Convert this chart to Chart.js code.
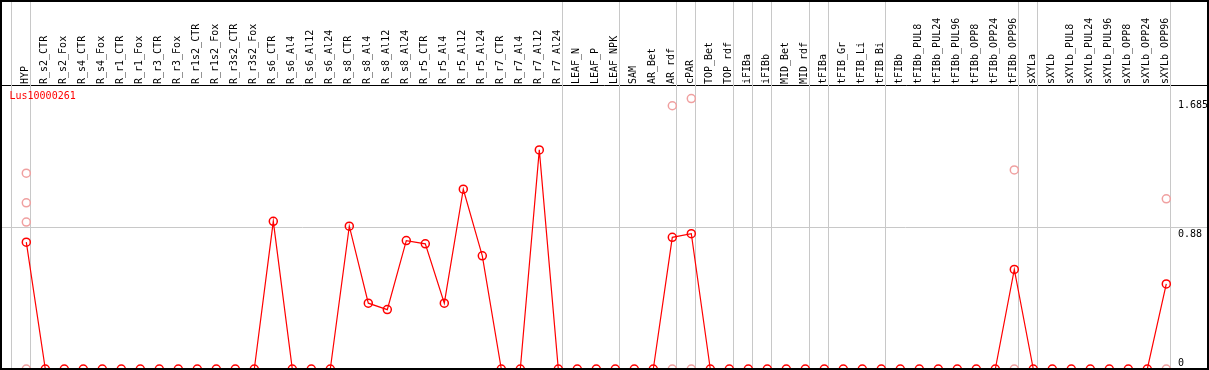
<!DOCTYPE html>
<html>
<head>
<meta charset="utf-8">
<script src="https://cdn.jsdelivr.net/npm/chart.js@4/dist/chart.umd.min.js"></script>
<style>
html, body { margin: 0; padding: 0; background: #fff; }
#wrap { width: 1209px; height: 370px; }
</style>
</head>
<body>
<div id="wrap"><canvas id="expr" width="1209" height="370"></canvas></div>
<script>
const geneName = 'Lus10000261';

const categories = [
	'HYP', 'R_s2_CTR', 'R_s2_Fox', 'R_s4_CTR', 'R_s4_Fox', 'R_r1_CTR', 'R_r1_Fox', 'R_r3_CTR', 'R_r3_Fox',
	'R_r1s2_CTR', 'R_r1s2_Fox', 'R_r3s2_CTR', 'R_r3s2_Fox', 'R_s6_CTR', 'R_s6_Al4', 'R_s6_Al12', 'R_s6_Al24',
	'R_s8_CTR', 'R_s8_Al4', 'R_s8_Al12', 'R_s8_Al24', 'R_r5_CTR', 'R_r5_Al4', 'R_r5_Al12', 'R_r5_Al24',
	'R_r7_CTR', 'R_r7_Al4', 'R_r7_Al12', 'R_r7_Al24', 'LEAF_N', 'LEAF_P', 'LEAF_NPK', 'SAM', 'AR_Bet', 'AR_rdf',
	'cPAR', 'TOP_Bet', 'TOP_rdf', 'iFIBa', 'iFIBb', 'MID_Bet', 'MID_rdf', 'tFIBa', 'tFIB_Gr', 'tFIB_Li', 'tFIB_Bi',
	'tFIBb', 'tFIBb_PUL8', 'tFIBb_PUL24', 'tFIBb_PUL96', 'tFIBb_OPP8', 'tFIBb_OPP24', 'tFIBb_OPP96',
	'sXYLa', 'sXYLb', 'sXYLb_PUL8', 'sXYLb_PUL24', 'sXYLb_PUL96', 'sXYLb_OPP8', 'sXYLb_OPP24', 'sXYLb_OPP96'
];

// mean expression per sample
const meanValues = [
	0.79, 0, 0, 0, 0, 0, 0, 0, 0, 0, 0, 0, 0,
	0.92, 0, 0, 0, 0.89, 0.41, 0.37, 0.80, 0.78, 0.41, 1.12, 0.705, 0, 0, 1.365, 0,
	0, 0, 0, 0, 0, 0.82, 0.843,
	0, 0, 0, 0, 0, 0, 0, 0, 0, 0, 0, 0, 0, 0, 0, 0,
	0.62, 0, 0, 0, 0, 0, 0, 0, 0.53
];

// individual replicates (faded points)
const repCategories = ['HYP', 'HYP', 'HYP', 'HYP', 'AR_rdf', 'AR_rdf', 'cPAR', 'cPAR',
	'tFIBb_OPP96', 'tFIBb_OPP96', 'sXYLb_OPP96', 'sXYLb_OPP96'];
const repValues = [1.22, 1.035, 0.915, 0, 1.64, 0, 1.685, 0, 1.24, 0, 1.06, 0];

const yTicks = [0, 0.88, 1.685];

// sample index after which a group separator is drawn
const groupBreaks = [-1, 0, 28, 31, 34, 35, 37, 38, 39, 41, 42, 45, 52, 53, 60];

const monoFont = 'DejaVu Sans Mono';

const framePlugin = {
	id: 'frame',
	beforeDatasetsDraw(chart) {
		const ctx = chart.ctx;
		const xs = chart.scales.x;
		const area = chart.chartArea;
		ctx.save();
		ctx.strokeStyle = '#c8c8c8';
		ctx.lineWidth = 1;
		groupBreaks.forEach(b => {
			const px = Math.round(xs.getPixelForValue(b + 0.2)) + 0.5;
			ctx.beginPath();
			ctx.moveTo(px, 0);
			ctx.lineTo(px, area.bottom);
			ctx.stroke();
		});
		ctx.restore();
	},
	afterDraw(chart) {
		const ctx = chart.ctx;
		const ys = chart.scales.y;
		const area = chart.chartArea;
		ctx.save();
		// outer frame
		ctx.fillStyle = '#000';
		ctx.fillRect(0, 0, chart.width, 2);
		ctx.fillRect(0, 0, 2, chart.height);
		ctx.fillRect(0, chart.height - 2, chart.width, 2);
		ctx.fillRect(chart.width - 2, 0, 2, chart.height);

		// y tick labels, inside the plot on the right
		ctx.font = '10px "' + monoFont + '"';
		ctx.textAlign = 'left';
		ctx.textBaseline = 'top';
		ys.ticks.forEach(t => {
			const py = Math.min(ys.getPixelForValue(t.value) + 2, area.bottom - 11);
			ctx.fillText(String(t.value), 1178, py);
		});

		// gene name
		ctx.fillStyle = '#ff0000';
		ctx.fillText(geneName, 9.5, 91);
		ctx.restore();
	}
};

const noPad = s => { s.paddingLeft = 0; s.paddingRight = 0; s.paddingTop = 0; s.paddingBottom = 0; };

new Chart(document.getElementById('expr'), {
	type: 'line',
	data: {
		datasets: [
			{
				label: 'replicates',
				data: repCategories.map((c, i) => ({ x: categories.indexOf(c), y: repValues[i] })),
				showLine: false,
				pointRadius: 4,
				pointBorderWidth: 1.5,
				pointBorderColor: '#f0a0a0',
				pointBackgroundColor: 'rgba(0,0,0,0)'
			},
			{
				label: geneName,
				data: meanValues.map((v, i) => ({ x: i, y: v })),
				borderColor: '#ff0000',
				borderWidth: 1.2,
				tension: 0,
				pointRadius: 4,
				pointBorderWidth: 1.5,
				pointBorderColor: '#ff0000',
				pointBackgroundColor: 'rgba(0,0,0,0)'
			}
		]
	},
	options: {
		responsive: false,
		animation: false,
		devicePixelRatio: 1,
		layout: { autoPadding: false, padding: { left: 1, right: 2, top: 0, bottom: 1 } },
		plugins: {
			legend: { display: false },
			tooltip: { enabled: false }
		},
		scales: {
			x: {
				type: 'linear',
				position: 'top',
				min: -1.3316,
				max: 62.142,
				afterBuildTicks: s => { s.ticks = categories.map((c, i) => ({ value: i })); },
				afterFit: s => { s.height = 85; noPad(s); },
				grid: { display: false },
				border: { display: true, color: '#000', width: 1 },
				ticks: {
					autoSkip: false,
					minRotation: 90,
					maxRotation: 90,
					padding: -7,
					labelOffset: 11,
					color: '#000',
					font: { family: monoFont, size: 10 },
					callback: v => categories[v]
				}
			},
			y: {
				type: 'linear',
				position: 'right',
				min: 0,
				max: 1.685 * 1.05,
				afterBuildTicks: s => { s.ticks = yTicks.map(v => ({ value: v })); },
				afterFit: s => { s.width = 0; noPad(s); },
				grid: {
					drawTicks: false,
					color: c => (c.tick && c.tick.value === 0.88 ? '#c8c8c8' : 'rgba(0,0,0,0)')
				},
				border: { display: false },
				ticks: { display: false }
			}
		}
	},
	plugins: [framePlugin]
});
</script>
</body>
</html>
